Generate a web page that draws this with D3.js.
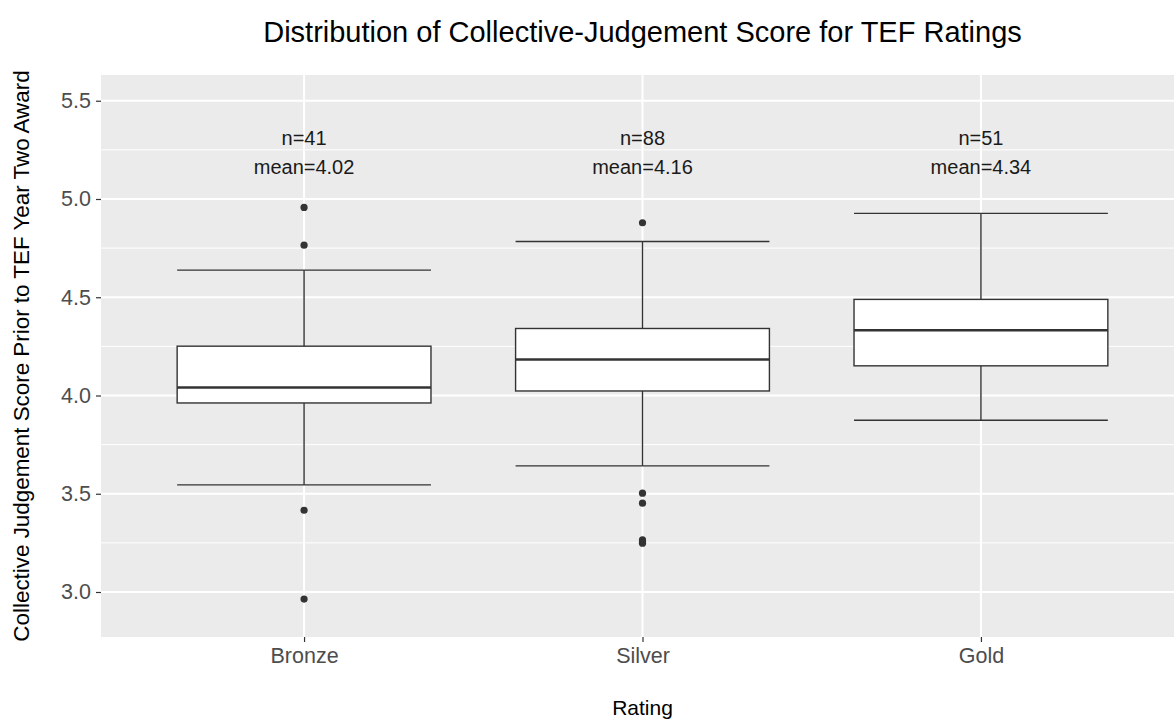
<!DOCTYPE html>
<html>
<head>
<meta charset="utf-8">
<script src="https://cdn.jsdelivr.net/npm/d3@7"></script>
<style>
  html, body { margin: 0; padding: 0; background: #ffffff; }
  svg { display: block; font-family: "Liberation Sans", Arial, sans-serif; }
</style>
</head>
<body>
<svg id="chart" width="1174" height="722"></svg>
<script>
// Box-plot summary for each TEF rating
const categories = ["Bronze", "Silver", "Gold"];
const counts = [41, 88, 51];
const means = [4.02, 4.16, 4.34];
const whiskerLow = [3.545, 3.642, 3.874];
const q1 = [3.962, 4.023, 4.151];
const median = [4.041, 4.183, 4.332];
const q3 = [4.251, 4.341, 4.489];
const whiskerHigh = [4.638, 4.784, 4.927];
const outliers = [
  [4.957, 4.765, 3.416, 2.964],
  [4.879, 3.503, 3.452, 3.265, 3.255, 3.248],
  []
];
const yTicks = [3.0, 3.5, 4.0, 4.5, 5.0, 5.5];
const yMinorTicks = [3.25, 3.75, 4.25, 4.75, 5.25];

const svg = d3.select("#chart");

// Panel geometry
const panel = { left: 101, right: 1184, top: 75, bottom: 637 };

const x = d3.scalePoint()
  .domain(categories)
  .range([panel.left, panel.right])
  .padding(0.6);

const y = d3.scaleLinear()
  .domain([2.771, 5.631])
  .range([panel.bottom, panel.top]);

const boxW = x.step() * 0.75;
const ink = "#333333";

// Panel background
svg.append("rect")
  .attr("x", panel.left).attr("y", panel.top)
  .attr("width", panel.right - panel.left)
  .attr("height", panel.bottom - panel.top)
  .attr("fill", "#EBEBEB");

const grid = svg.append("g");
grid.selectAll("line.minor").data(yMinorTicks).join("line")
  .attr("class", "minor")
  .attr("x1", panel.left).attr("x2", panel.right)
  .attr("y1", d => y(d)).attr("y2", d => y(d))
  .attr("stroke", "#ffffff").attr("stroke-width", 1);
grid.selectAll("line.majorY").data(yTicks).join("line")
  .attr("class", "majorY")
  .attr("x1", panel.left).attr("x2", panel.right)
  .attr("y1", d => y(d)).attr("y2", d => y(d))
  .attr("stroke", "#ffffff").attr("stroke-width", 2);
grid.selectAll("line.majorX").data(categories).join("line")
  .attr("class", "majorX")
  .attr("x1", d => x(d)).attr("x2", d => x(d))
  .attr("y1", panel.top).attr("y2", panel.bottom)
  .attr("stroke", "#ffffff").attr("stroke-width", 2);

// Boxes
const stats = categories.map((c, i) => ({
  cat: c, lo: whiskerLow[i], q1: q1[i], med: median[i], q3: q3[i], hi: whiskerHigh[i],
  out: outliers[i], n: counts[i], mean: means[i]
}));

const boxes = svg.append("g").selectAll("g").data(stats).join("g");

// whisker stems
boxes.append("line")
  .attr("x1", d => x(d.cat)).attr("x2", d => x(d.cat))
  .attr("y1", d => y(d.hi)).attr("y2", d => y(d.lo))
  .attr("stroke", ink).attr("stroke-width", 1.4);
// whisker caps
boxes.selectAll("line.cap").data(d => [d.lo, d.hi].map(v => ({ cat: d.cat, v }))).join("line")
  .attr("class", "cap")
  .attr("x1", d => x(d.cat) - boxW / 2).attr("x2", d => x(d.cat) + boxW / 2)
  .attr("y1", d => y(d.v)).attr("y2", d => y(d.v))
  .attr("stroke", ink).attr("stroke-width", 1.4);
// box
boxes.append("rect")
  .attr("x", d => x(d.cat) - boxW / 2)
  .attr("width", boxW)
  .attr("y", d => y(d.q3))
  .attr("height", d => y(d.q1) - y(d.q3))
  .attr("fill", "#ffffff").attr("stroke", ink).attr("stroke-width", 1.4);
// median
boxes.append("line")
  .attr("x1", d => x(d.cat) - boxW / 2).attr("x2", d => x(d.cat) + boxW / 2)
  .attr("y1", d => y(d.med)).attr("y2", d => y(d.med))
  .attr("stroke", ink).attr("stroke-width", 2.6);
// outliers
boxes.selectAll("circle").data(d => d.out.map(v => ({ cat: d.cat, v }))).join("circle")
  .attr("cx", d => x(d.cat)).attr("cy", d => y(d.v))
  .attr("r", 3.6).attr("fill", ink);

// n / mean annotations
const ann = svg.append("g").attr("font-size", 20).attr("fill", "#1a1a1a").attr("text-anchor", "middle");
ann.selectAll("text.n").data(stats).join("text")
  .attr("class", "n")
  .attr("x", d => x(d.cat)).attr("y", 145)
  .text(d => "n=" + d.n);
ann.selectAll("text.m").data(stats).join("text")
  .attr("class", "m")
  .attr("x", d => x(d.cat)).attr("y", 174)
  .text(d => "mean=" + d3.format(".2f")(d.mean));

// Axes
const yAxis = svg.append("g")
  .attr("transform", `translate(${panel.left},0)`)
  .call(d3.axisLeft(y).tickValues(yTicks).tickFormat(d3.format(".1f")).tickSize(5).tickPadding(5));
const xAxis = svg.append("g")
  .attr("transform", `translate(0,${panel.bottom})`)
  .call(d3.axisBottom(x).tickSize(5).tickPadding(6));
[yAxis, xAxis].forEach(g => {
  g.select(".domain").remove();
  g.selectAll(".tick line").attr("stroke", "#333333").attr("stroke-width", 1.2);
  g.selectAll(".tick text").attr("fill", "#4D4D4D").attr("font-size", 21.5)
    .attr("font-family", "Liberation Sans, Arial, sans-serif");
});

// Titles
svg.append("text")
  .attr("x", (panel.left + panel.right) / 2).attr("y", 42)
  .attr("text-anchor", "middle").attr("font-size", 29).attr("fill", "#000000")
  .text("Distribution of Collective-Judgement Score for TEF Ratings");

svg.append("text")
  .attr("x", (panel.left + panel.right) / 2).attr("y", 715)
  .attr("text-anchor", "middle").attr("font-size", 21).attr("fill", "#000000")
  .text("Rating");

svg.append("text")
  .attr("transform", `translate(29,${(panel.top + panel.bottom) / 2}) rotate(-90)`)
  .attr("text-anchor", "middle").attr("font-size", 22.4).attr("fill", "#000000")
  .text("Collective Judgement Score Prior to TEF Year Two Award");
</script>
</body>
</html>
